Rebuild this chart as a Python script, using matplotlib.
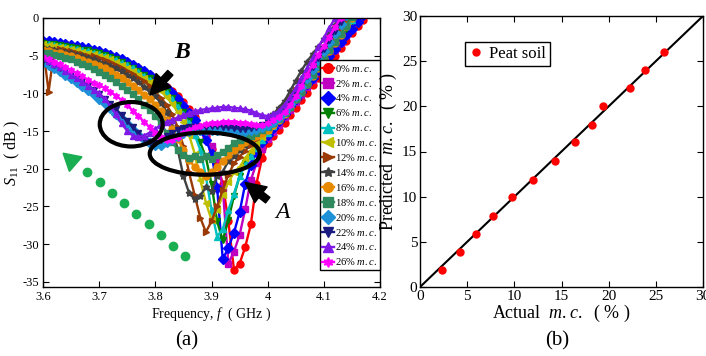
import matplotlib
matplotlib.use('Agg')
import matplotlib.pyplot as plt
from matplotlib.patches import Ellipse

plt.rcParams['font.family'] = 'Liberation Serif'
plt.rcParams['mathtext.fontset'] = 'custom'
plt.rcParams['mathtext.rm'] = 'Liberation Serif'
plt.rcParams['mathtext.it'] = 'Liberation Serif:italic'
plt.rcParams['mathtext.bf'] = 'Liberation Serif:bold'

# frequency sweep (GHz)
freq = [3.60, 3.61, 3.62, 3.63, 3.64, 3.65, 3.66, 3.67, 3.68, 3.69,
        3.70, 3.71, 3.72, 3.73, 3.74, 3.75, 3.76, 3.77, 3.78, 3.79,
        3.80, 3.81, 3.82, 3.83, 3.84, 3.85, 3.86, 3.87, 3.88, 3.89,
        3.90, 3.91, 3.92, 3.93, 3.94, 3.95, 3.96, 3.97, 3.98, 3.99,
        4.00, 4.01, 4.02, 4.03, 4.04, 4.05, 4.06, 4.07, 4.08, 4.09,
        4.10, 4.11, 4.12, 4.13, 4.14, 4.15, 4.16, 4.17, 4.18]

# S11 (dB) for each moisture content
s11_00 = [-3.1, -3.2, -3.3, -3.4, -3.5, -3.7, -3.8, -4.0, -4.1, -4.3,
          -4.5, -4.7, -5.0, -5.3, -5.6, -5.9, -6.3, -6.6, -7.0, -7.5,
          -8.0, -8.5, -9.1, -9.7, -10.4, -11.2, -12.1, -13.2, -14.4, -15.7,
          -17.4, -19.3, -22.0, -27.0, -33.4, -32.6, -30.4, -27.4, -22.0, -18.6,
          -16.6, -15.6, -14.8, -13.9, -12.9, -11.9, -10.9, -9.9, -8.9, -7.9,
          -6.9, -5.9, -5.0, -4.0, -3.0, -2.0, -1.1, -0.2, 0.7]
s11_02 = [-3.2, -3.3, -3.4, -3.5, -3.6, -3.8, -3.9, -4.1, -4.2, -4.4,
          -4.6, -4.8, -5.1, -5.4, -5.7, -6.1, -6.5, -6.9, -7.3, -7.8,
          -8.3, -8.8, -9.4, -10.0, -10.8, -11.6, -12.5, -13.5, -14.6, -15.8,
          -17.0, -18.6, -22.5, -32.6, -31.0, -28.8, -25.4, -21.5, -19.3, -17.4,
          -16.0, -15.1, -14.2, -13.2, -12.2, -11.2, -10.2, -9.2, -8.2, -7.2,
          -6.2, -5.2, -4.2, -3.3, -2.3, -1.4, -0.4, 0.5, 1.4]
s11_04 = [-3.0, -3.1, -3.2, -3.3, -3.4, -3.6, -3.7, -3.9, -4.0, -4.2,
          -4.4, -4.6, -4.9, -5.2, -5.5, -5.9, -6.2, -6.6, -7.1, -7.6,
          -8.1, -8.6, -9.3, -10.0, -10.8, -11.7, -12.6, -13.6, -14.8, -16.2,
          -18.0, -22.5, -32.0, -30.5, -28.5, -25.8, -22.0, -19.5, -17.8, -16.5,
          -15.5, -14.6, -13.7, -12.7, -11.7, -10.7, -9.8, -8.8, -7.9, -6.9,
          -6.0, -5.0, -4.1, -3.2, -2.3, -1.4, -0.5, 0.4, 1.3]
s11_06 = [-3.3, -3.4, -3.5, -3.6, -3.7, -3.9, -4.0, -4.2, -4.3, -4.5,
          -4.7, -4.9, -5.2, -5.5, -5.9, -6.2, -6.6, -7.0, -7.5, -8.0,
          -8.6, -9.2, -9.8, -10.6, -11.5, -12.5, -13.7, -15.0, -16.5, -18.5,
          -22.0, -27.0, -29.5, -26.8, -23.6, -21.0, -19.2, -18.0, -17.0, -16.1,
          -15.2, -14.3, -13.3, -12.3, -11.3, -10.3, -9.3, -8.3, -7.3, -6.3,
          -5.3, -4.3, -3.3, -2.3, -1.4, -0.4, 0.5, 1.4, 2.3]
s11_08 = [-3.4, -3.5, -3.6, -3.7, -3.8, -4.0, -4.1, -4.3, -4.4, -4.6,
          -4.8, -5.0, -5.3, -5.6, -6.0, -6.3, -6.7, -7.2, -7.7, -8.2,
          -8.8, -9.4, -10.0, -10.8, -11.8, -12.8, -14.0, -15.5, -17.5, -21.0,
          -25.5, -29.0, -28.0, -25.5, -23.3, -21.0, -19.5, -18.3, -17.2, -16.2,
          -15.3, -14.3, -13.3, -12.3, -11.2, -10.2, -9.2, -8.1, -7.1, -6.1,
          -5.1, -4.1, -3.1, -2.1, -1.1, -0.2, 0.8, 1.7, 2.6]
s11_10 = [-3.5, -3.6, -3.7, -3.8, -4.0, -4.1, -4.3, -4.5, -4.6, -4.8,
          -5.0, -5.2, -5.5, -5.9, -6.2, -6.6, -7.0, -7.5, -8.0, -8.5,
          -9.0, -9.7, -10.5, -11.4, -12.5, -13.8, -15.5, -18.0, -21.5, -24.5,
          -26.8, -25.5, -23.5, -21.8, -20.5, -19.8, -18.6, -17.6, -16.7, -15.8,
          -14.9, -14.0, -13.0, -12.0, -11.0, -10.0, -9.0, -7.9, -6.9, -5.9,
          -4.9, -3.9, -2.9, -1.9, -0.9, 0.1, 1.0, 1.9, 2.8]
s11_12 = [-3.8, -9.8, -4.2, -4.1, -4.3, -4.4, -4.6, -4.8, -5.0, -5.1,
          -5.3, -5.6, -5.9, -6.2, -6.6, -7.0, -7.4, -7.9, -8.4, -9.0,
          -9.8, -10.6, -11.5, -12.8, -14.5, -17.0, -20.5, -23.5, -26.5, -28.4,
          -27.0, -25.0, -22.8, -20.8, -19.3, -18.4, -17.6, -16.8, -16.0, -15.2,
          -14.4, -13.5, -12.5, -11.5, -10.5, -9.5, -8.4, -7.4, -6.3, -5.3,
          -4.3, -3.3, -2.3, -1.3, -0.3, 0.6, 1.5, 2.4, 3.3]
s11_14 = [-4.0, -4.1, -4.2, -4.4, -4.5, -4.7, -4.9, -5.1, -5.3, -5.5,
          -5.8, -6.1, -6.4, -6.7, -7.1, -7.6, -8.0, -8.5, -9.1, -9.7,
          -10.4, -11.3, -12.5, -14.5, -17.5, -21.0, -23.2, -24.0, -23.6, -22.4,
          -23.0, -21.0, -20.4, -19.0, -18.3, -17.5, -16.8, -16.0, -15.2, -14.4,
          -13.6, -12.8, -11.9, -11.0, -9.7, -8.3, -7.0, -5.8, -4.8, -3.8,
          -2.8, -1.8, -0.9, 0.0, 0.9, 1.8, 2.7, 3.6, 4.5]
s11_16 = [-4.3, -4.4, -4.6, -4.7, -4.9, -5.1, -5.3, -5.6, -5.8, -6.1,
          -6.4, -6.7, -7.1, -7.5, -8.0, -8.5, -9.0, -9.6, -10.2, -10.8,
          -11.5, -12.4, -13.5, -14.7, -16.0, -17.5, -18.8, -19.8, -20.5, -21.0,
          -20.5, -19.8, -19.0, -18.2, -17.5, -17.0, -16.5, -16.0, -15.6, -15.2,
          -14.8, -14.2, -13.5, -12.7, -11.8, -10.8, -9.8, -8.8, -7.7, -6.6,
          -5.5, -4.4, -3.3, -2.2, -1.1, 0.0, 1.1, 2.2, 3.3]
s11_18 = [-4.6, -4.7, -4.9, -5.1, -5.3, -5.5, -5.8, -6.1, -6.4, -6.8,
          -7.2, -7.6, -8.0, -8.5, -9.0, -9.5, -10.1, -10.8, -11.5, -12.2,
          -13.0, -14.0, -15.2, -16.5, -17.5, -18.2, -18.6, -18.3, -18.7, -18.3,
          -18.7, -18.2, -17.8, -17.2, -16.6, -16.2, -15.9, -15.6, -15.2, -14.9,
          -14.5, -14.0, -13.4, -12.6, -11.8, -10.8, -9.8, -8.7, -7.6, -6.5,
          -5.4, -4.3, -3.2, -2.1, -1.0, 0.1, 1.2, 2.3, 3.4]
s11_20 = [-5.9, -6.3, -6.7, -7.1, -7.6, -8.0, -8.5, -9.0, -9.6, -10.1,
          -10.7, -11.3, -12.0, -12.7, -13.4, -14.1, -14.8, -15.5, -16.1, -16.6,
          -16.9, -16.8, -16.4, -16.0, -15.6, -15.3, -15.0, -14.9, -14.8, -14.8,
          -14.8, -14.8, -14.9, -14.9, -15.0, -15.0, -15.0, -14.9, -14.7, -14.5,
          -14.2, -13.8, -13.2, -12.4, -11.4, -10.3, -9.2, -8.0, -6.8, -5.6,
          -4.4, -3.2, -2.0, -0.8, 0.4, 1.6, 2.8, 4.0, 5.2]
s11_22 = [-5.6, -5.9, -6.2, -6.6, -7.0, -7.4, -7.9, -8.4, -8.9, -9.5,
          -10.1, -10.7, -11.4, -12.1, -12.9, -13.7, -14.5, -15.3, -16.0, -16.5,
          -16.6, -16.2, -15.7, -15.2, -14.8, -14.6, -14.5, -14.4, -14.4, -14.4,
          -14.3, -14.3, -14.4, -14.5, -14.6, -14.7, -14.7, -14.6, -14.4, -14.2,
          -13.9, -13.5, -12.9, -12.1, -11.1, -10.0, -8.9, -7.7, -6.5, -5.3,
          -4.1, -2.9, -1.7, -0.5, 0.7, 1.9, 3.1, 4.3, 5.5]
s11_24 = [-5.3, -5.7, -6.1, -6.5, -7.0, -7.5, -8.0, -8.5, -9.0, -9.5,
          -10.0, -10.8, -11.7, -12.8, -14.0, -15.0, -15.6, -15.8, -15.6, -15.2,
          -14.7, -14.2, -13.8, -13.5, -13.2, -12.9, -12.6, -12.4, -12.2, -12.1,
          -12.0, -11.9, -11.8, -11.8, -11.9, -12.0, -12.1, -12.3, -12.6, -12.9,
          -13.0, -12.8, -12.3, -11.5, -10.5, -9.3, -8.0, -6.7, -5.3, -3.9,
          -2.6, -1.3, 0.0, 1.3, 2.6, 3.9, 5.2, 6.5, 7.8]
s11_26 = [-5.2, -5.5, -5.8, -6.1, -6.5, -6.9, -7.3, -7.7, -8.2, -8.6,
          -8.9, -9.3, -9.8, -10.3, -10.9, -11.6, -12.3, -13.0, -13.8, -14.5,
          -15.2, -15.8, -16.2, -16.2, -15.8, -15.2, -14.8, -14.5, -14.3, -14.1,
          -14.0, -13.9, -13.8, -13.8, -13.8, -13.9, -14.0, -14.1, -14.2, -14.2,
          -14.0, -13.6, -13.1, -12.5, -11.6, -10.4, -9.0, -7.6, -6.2, -4.9,
          -3.7, -2.5, -1.2, 0.0, 1.2, 2.4, 3.6, 4.8, 6.0]

mc_labels = ['0%', '2%', '4%', '6%', '8%', '10%', '12%',
             '14%', '16%', '18%', '20%', '22%', '24%', '26%']
s11_all = [s11_00, s11_02, s11_04, s11_06, s11_08, s11_10, s11_12,
           s11_14, s11_16, s11_18, s11_20, s11_22, s11_24, s11_26]
colors = ['#ff0000', '#c000c0', '#0000ff', '#008000', '#00bfbf', '#bfbf00', '#9a3a05',
          '#404040', '#e88a00', '#2f8b5e', '#1e90d8', '#1a1a80', '#7f1ae6', '#ff00ff']
markers = ['o', 's', 'D', 'v', '^', '<', '>',
           (5, 1, 0), 'o', 's', 'D', 'v', '^', (6, 1, 0)]

# prediction vs actual moisture content
actual_mc = [2.3, 4.2, 5.9, 7.7, 9.8, 12.0, 14.3, 16.4, 18.2, 19.4, 22.3, 23.8, 25.9]
predicted_mc = [1.9, 3.9, 5.9, 7.9, 10.0, 11.9, 14.0, 16.0, 17.9, 20.0, 22.0, 24.0, 26.0]
fit_x = [0, 30]
fit_y = [0, 30]

# trend arrow dots (annotation)
trend_f = [3.678, 3.701, 3.723, 3.744, 3.765, 3.789, 3.810, 3.831, 3.853]
trend_s = [-20.5, -21.8, -23.2, -24.5, -26.0, -27.3, -28.8, -30.2, -31.6]

fig = plt.figure(figsize=(7.06, 3.56), dpi=100)
ax1 = fig.add_axes([43 / 706, 1 - 287 / 356, 337 / 706, 269 / 356])
ax2 = fig.add_axes([420 / 706, 1 - 287 / 356, 283 / 706, 271 / 356])

# ---- (a) S11 curves
for lab, s, c, m in zip(mc_labels, s11_all, colors, markers):
    ax1.plot(freq, s, color=c, marker=m, markersize=5, markeredgecolor=c,
             markerfacecolor=c, lw=1.7, label=lab + r' $m.c.$')

ax1.set_xlim(3.6, 4.2)
ax1.set_ylim(-35.7, 0)
ax1.set_xticks([3.6, 3.7, 3.8, 3.9, 4.0, 4.1, 4.2])
ax1.set_xticklabels(['3.6', '3.7', '3.8', '3.9', '4', '4.1', '4.2'])
ax1.set_yticks([0, -5, -10, -15, -20, -25, -30, -35])
ax1.set_yticklabels(['0', '-5', '-10', '-15', '-20', '-25', '-30', '-35'])
ax1.tick_params(direction='in', top=True, right=True, labelsize=9, length=4, pad=3)
ax1.set_xlabel(r'Frequency, $f$  ( GHz )', fontsize=10, labelpad=2)
ax1.set_ylabel(r'$S_{11}$  ( dB )', fontsize=11.5, labelpad=0)

leg = ax1.legend(loc='upper right', bbox_to_anchor=(1.0, 0.844), fontsize=7.6,
                 labelspacing=0.37, handlelength=1.1, handletextpad=0.12,
                 borderpad=0.25, borderaxespad=0, markerscale=1.4,
                 fancybox=False, framealpha=1, edgecolor='k')
leg.get_frame().set_linewidth(1.0)
leg.set_zorder(10)

# ellipses, arrows and labels
ax1.add_patch(Ellipse((3.757, -14.1), 0.112, 5.9, fill=False, lw=3, color='k', zorder=5))
ax1.add_patch(Ellipse((3.888, -18.0), 0.196, 5.6, fill=False, lw=3, color='k', zorder=5))
astyle = dict(arrowstyle='simple,head_length=0.8,head_width=0.8,tail_width=0.28',
              color='k', mutation_scale=18)
ax1.annotate('', xy=(3.787, -10.5), xytext=(3.830, -7.0), arrowprops=astyle, zorder=6)
ax1.annotate('', xy=(3.956, -21.6), xytext=(4.004, -24.4), arrowprops=astyle, zorder=6)
ax1.text(3.848, -4.6, 'B', fontsize=17, fontweight='bold', style='italic',
         ha='center', va='center')
ax1.text(4.027, -25.8, 'A', fontsize=17, style='italic', ha='center', va='center')

ax1.plot(trend_f, trend_s, 'o', color='#1aae52', markersize=6, linestyle='none')
ax1.plot([3.650], [-18.8], marker=(3, 0, 49), color='#1aae52', markersize=16,
         linestyle='none')

# ---- (b) predicted vs actual
ax2.plot(fit_x, fit_y, color='k', lw=1.5)
ax2.plot(actual_mc, predicted_mc, 'o', color='red', markersize=5, label='Peat soil')
ax2.set_xlim(0, 30)
ax2.set_ylim(0, 30)
ax2.set_xticks(range(0, 31, 5))
ax2.set_yticks(range(0, 31, 5))
ax2.tick_params(direction='in', top=True, right=True, labelsize=11, length=4, pad=2)
ax2.set_xlabel(r'Actual  $m.c.$  ( % )', fontsize=13, labelpad=0)
ax2.set_ylabel(r'Predicted  $m.c.$  ( % )', fontsize=13, labelpad=2)
leg2 = ax2.legend(loc='upper left', bbox_to_anchor=(0.159, 0.905), fontsize=12,
                  handlelength=0.8, handletextpad=0.4, borderpad=0.25,
                  borderaxespad=0, fancybox=False, framealpha=1, edgecolor='k')
leg2.get_frame().set_linewidth(1.0)

for ax in (ax1, ax2):
    for sp in ax.spines.values():
        sp.set_linewidth(1.0)

fig.text(187 / 706, 1 - 341 / 356, '(a)', fontsize=15, ha='center', va='center')
fig.text(557 / 706, 1 - 341 / 356, '(b)', fontsize=15, ha='center', va='center')

fig.savefig('out.png', dpi=100)
